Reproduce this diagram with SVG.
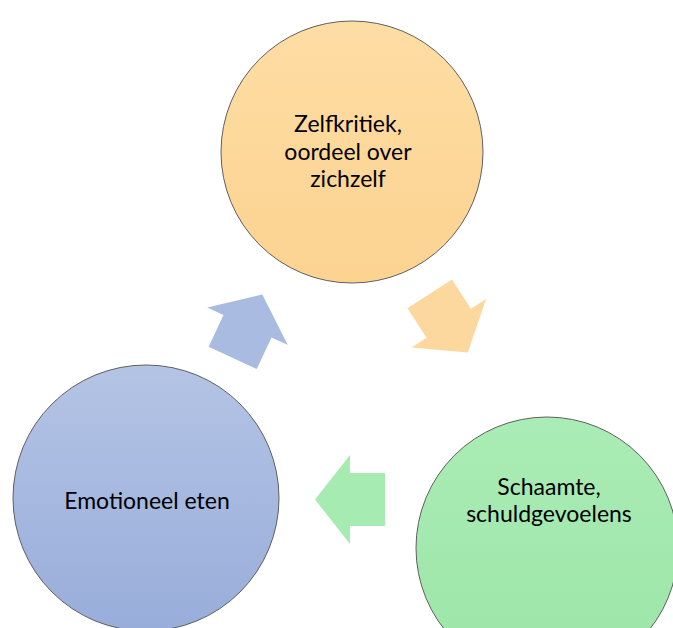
<svg xmlns="http://www.w3.org/2000/svg" width="673" height="628" viewBox="0 0 673 628">
  <defs>
    <linearGradient id="gOrange" x1="0" y1="0" x2="0" y2="1">
      <stop offset="0" stop-color="#FEDDA4"/>
      <stop offset="1" stop-color="#FCD391"/>
    </linearGradient>
    <linearGradient id="gGreen" x1="0" y1="0" x2="0" y2="1">
      <stop offset="0" stop-color="#AAECB5"/>
      <stop offset="1" stop-color="#9CE5A7"/>
    </linearGradient>
    <linearGradient id="gBlue" x1="0" y1="0" x2="0" y2="1">
      <stop offset="0" stop-color="#B4C4E5"/>
      <stop offset="1" stop-color="#98ADDA"/>
    </linearGradient>
    <!-- block arrow pointing along +x, centred on the origin -->
    <polygon id="arrow" points="-35,-26.5 0,-26.5 0,-44.5 35,0 0,44.5 0,26.5 -35,26.5"/>
  </defs>
  <style>
    .node { stroke: #5f5f5f; stroke-width: 1; }
    .label { font-family: Lato, "Open Sans", "Liberation Sans", sans-serif; font-size: 23px; fill: #000; text-anchor: middle; }
  </style>

  <rect width="673" height="628" fill="#ffffff"/>

  <g id="connectors">
    <use href="#arrow" fill="#FDD89E" transform="translate(448.75 323.2) rotate(57)"/>
    <use href="#arrow" fill="#A6EBB1" transform="translate(350 499.5) rotate(180)"/>
    <use href="#arrow" fill="#A9BBE0" transform="translate(247.5 326.2) rotate(-65)"/>
  </g>

  <g id="node-zelfkritiek">
    <circle class="node" cx="352" cy="152" r="131" fill="url(#gOrange)"/>
    <text class="label"><tspan x="348" y="132">Zelfkritiek,</tspan><tspan x="348" y="159.7">oordeel over</tspan><tspan x="348" y="187.4">zichzelf</tspan></text>
  </g>

  <g id="node-schaamte">
    <circle class="node" cx="547" cy="548" r="131" fill="url(#gGreen)"/>
    <text class="label"><tspan x="549" y="494.5">Schaamte,</tspan><tspan x="549" y="522.2">schuldgevoelens</tspan></text>
  </g>

  <g id="node-emotioneel">
    <circle class="node" cx="146" cy="498" r="133" fill="url(#gBlue)"/>
    <text class="label" x="147" y="509" font-size="24">Emotioneel eten</text>
  </g>
</svg>
